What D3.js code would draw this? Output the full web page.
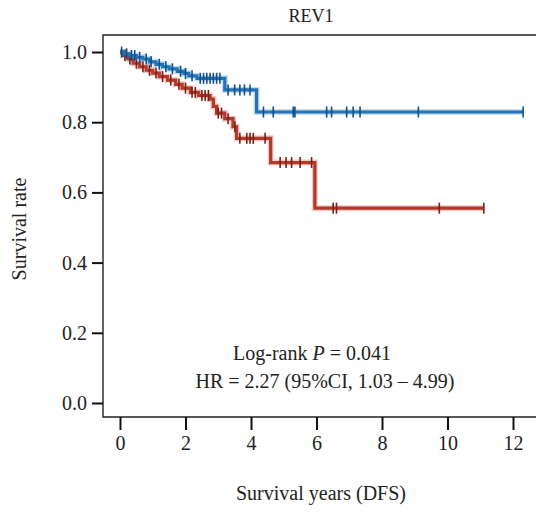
<!DOCTYPE html>
<html>
<head>
<meta charset="utf-8">
<script src="https://cdn.jsdelivr.net/npm/d3@7"></script>
<style>
  body { margin: 0; background: #fff; }
  text { font-family: "Liberation Serif", "DejaVu Serif", serif; }
</style>
</head>
<body>
<div id="km"></div>
<script>
// KM curves: step times and survival after each step
const blueTimes = [0, 0.15, 0.3, 0.5, 0.7, 0.9, 1.1, 1.3, 1.5, 1.75, 1.95, 2.1, 2.35, 3.2, 4.17, 12.31];
const blueSurv  = [1, 0.995, 0.99, 0.985, 0.98, 0.972, 0.965, 0.958, 0.952, 0.945, 0.939, 0.932, 0.925, 0.892, 0.829, 0.829];
const blueCensor = [0.05, 0.2, 0.35, 0.45, 0.6, 0.8, 0.95, 1.2, 1.4, 1.6, 1.85, 2.0, 2.2, 2.45, 2.55, 2.65, 2.75, 2.85, 2.95, 3.05,
                    3.3, 3.5, 3.66, 3.8, 3.97, 4.38, 4.68, 5.29, 5.34, 6.31, 6.46, 6.92, 7.12, 7.33, 9.11, 12.31];

const redTimes = [0, 0.1, 0.25, 0.4, 0.6, 0.8, 1.0, 1.2, 1.45, 1.7, 1.9, 2.15, 2.4, 2.75, 2.85, 2.95, 3.2, 3.45, 3.56, 4.6, 5.95, 11.11];
const redSurv  = [1, 0.99, 0.98, 0.968, 0.958, 0.948, 0.94, 0.93, 0.92, 0.908, 0.897, 0.885, 0.876, 0.866, 0.845, 0.826, 0.81, 0.787, 0.754, 0.685, 0.555, 0.555];
const redCensor = [0.15, 0.3, 0.5, 0.7, 0.9, 1.1, 1.3, 1.55, 1.8, 2.0, 2.2, 2.3, 2.5, 2.6, 2.7, 3.0, 3.1, 3.3, 3.51, 3.66, 3.87, 3.97,
                   4.07, 4.43, 4.89, 5.07, 5.24, 5.5, 5.85, 6.51, 6.61, 9.75, 11.11];

const xTicks = [0, 2, 4, 6, 8, 10, 12];
const yTicks = [0, 0.2, 0.4, 0.6, 0.8, 1.0];

const width = 536, height = 512;
const frame = { left: 103, top: 35, bottom: 417 };
const fs = 20;

const x = d3.scaleLinear().domain([0, 12]).range([120, 513]);
const y = d3.scaleLinear().domain([0, 1]).range([403, 52]);

const svg = d3.select("#km").append("svg")
        .attr("width", width)
        .attr("height", height);

// frame: left, top, bottom (no right side, it runs off the picture)
svg.append("path")
        .attr("d", `M${width},${frame.top}H${frame.left}V${frame.bottom}H${width}`)
        .attr("fill", "none")
        .attr("stroke", "#222")
        .attr("stroke-width", 1.4);

const yAxis = svg.append("g")
        .attr("transform", `translate(${frame.left},0)`)
        .call(d3.axisLeft(y).tickValues(yTicks).tickSize(11).tickPadding(5).tickFormat(d3.format(".1f")));
yAxis.select(".domain").remove();

const xAxis = svg.append("g")
        .attr("transform", `translate(0,${frame.bottom})`)
        .call(d3.axisBottom(x).tickValues(xTicks).tickSize(13).tickPadding(6));
xAxis.select(".domain").remove();

svg.selectAll(".tick line").attr("stroke", "#111").attr("stroke-width", 2);
svg.selectAll(".tick text")
        .attr("font-family", "Liberation Serif, serif")
        .attr("font-size", fs)
        .attr("fill", "#222");

function curve(times, surv, censor, col, dark) {
        const pts = times.map((t, i) => [t, surv[i]]);
        const line = d3.line().x(d => x(d[0])).y(d => y(d[1])).curve(d3.curveStepAfter);
        // soft halo then the line itself
        svg.append("path").datum(pts)
                .attr("d", line).attr("fill", "none")
                .attr("stroke", col).attr("stroke-opacity", 0.25).attr("stroke-width", 6);
        svg.append("path").datum(pts)
                .attr("d", line).attr("fill", "none")
                .attr("stroke", col).attr("stroke-width", 3.2);
        const survAt = t => {
                let s = surv[0];
                times.forEach((tt, i) => { if (tt <= t) s = surv[i]; });
                return s;
        };
        svg.append("g").selectAll("line")
                .data(censor)
                .join("line")
                .attr("x1", d => x(d)).attr("x2", d => x(d))
                .attr("y1", d => y(survAt(d)) - 5.5)
                .attr("y2", d => y(survAt(d)) + 5.5)
                .attr("stroke", dark)
                .attr("stroke-width", 1.6);
}

curve(redTimes, redSurv, redCensor, "#b3392a", "#7a1f14");
curve(blueTimes, blueSurv, blueCensor, "#1f74b8", "#124f86");

svg.append("text")
        .attr("x", 311).attr("y", 22)
        .attr("text-anchor", "middle")
        .attr("font-size", 18).attr("fill", "#222")
        .text("REV1");

svg.append("text")
        .attr("transform", "translate(26,229) rotate(-90)")
        .attr("text-anchor", "middle")
        .attr("font-size", fs).attr("fill", "#222")
        .text("Survival rate");

svg.append("text")
        .attr("x", 321).attr("y", 500)
        .attr("text-anchor", "middle")
        .attr("font-size", fs).attr("fill", "#222")
        .text("Survival years (DFS)");

const t1 = svg.append("text")
        .attr("x", 312).attr("y", 360)
        .attr("text-anchor", "middle")
        .attr("font-size", fs).attr("fill", "#222");
t1.append("tspan").text("Log-rank ");
t1.append("tspan").attr("font-style", "italic").text("P");
t1.append("tspan").text(" = 0.041");

svg.append("text")
        .attr("x", 325).attr("y", 388)
        .attr("text-anchor", "middle")
        .attr("font-size", fs).attr("fill", "#222")
        .text("HR = 2.27 (95%CI, 1.03 \u2013 4.99)");
</script>
</body>
</html>
